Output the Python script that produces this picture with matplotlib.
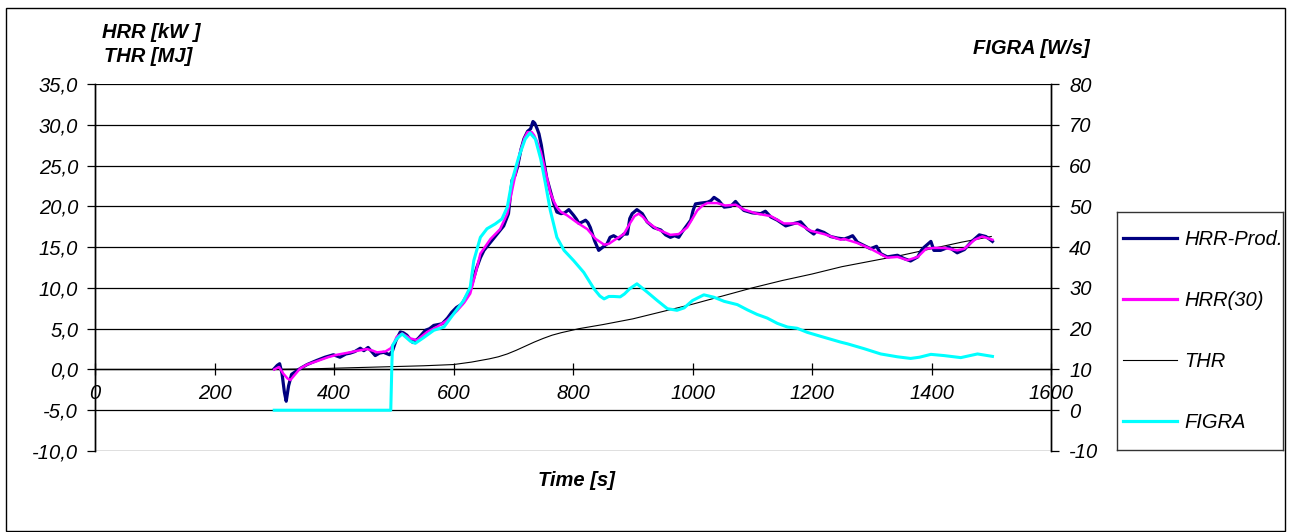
import matplotlib
matplotlib.use("Agg")
import matplotlib.pyplot as plt
from matplotlib.lines import Line2D
from matplotlib.patches import Rectangle
from matplotlib.ticker import FuncFormatter, MultipleLocator

# ---------------- data ----------------
hrr_t = [300, 305, 309, 313, 317, 320, 324, 329, 335, 343, 355, 371, 385, 399, 410, 420, 427, 435,
         444, 450, 457, 463, 469, 476, 483, 493, 498, 504, 511, 516, 522, 532, 541, 553, 560, 567,
         581, 590, 597, 605, 614, 621, 628, 633, 639, 645, 651, 662, 673, 684, 692, 698, 703, 707,
         713, 718, 724, 729, 733, 736, 740, 743, 747, 751, 756, 762, 768, 773, 780, 786, 793, 801,
         806, 810, 816, 821, 825, 829, 836, 843, 850, 857, 862, 868, 877, 885, 891, 895, 899, 907,
         916, 924, 935, 947, 955, 963, 970, 977, 983, 988, 997, 1001, 1005, 1014, 1025, 1031, 1036,
         1044, 1053, 1064, 1072, 1079, 1086, 1100, 1114, 1122, 1131, 1142, 1156, 1170, 1181, 1187,
         1192, 1203, 1209, 1220, 1231, 1243, 1254, 1262, 1268, 1276, 1287, 1298, 1308, 1315, 1326,
         1343, 1354, 1365, 1377, 1383, 1388, 1396, 1399, 1404, 1415, 1429, 1443, 1455, 1466, 1480,
         1491, 1502]
hrr_prod = [0.1, 0.5, 0.7, -0.5, -2.8, -3.9, -2.0, -0.6, -0.3, 0.1, 0.6, 1.1, 1.5, 1.8, 1.5, 1.9, 2.0, 2.2,
            2.6, 2.3, 2.7, 2.2, 1.7, 2.0, 2.1, 1.8, 2.3, 3.6, 4.6, 4.5, 4.2, 3.3, 3.8, 4.8, 5.0, 5.4,
            5.6, 6.3, 7.0, 7.6, 8.0, 8.9, 9.7, 11.0, 12.5, 13.7, 14.6, 15.6, 16.6, 17.6, 19.1, 23.2, 23.8, 24.8,
            27.0, 28.3, 29.2, 29.5, 30.4, 30.2, 29.5, 28.9, 27.5, 25.6, 23.5, 21.9, 20.3, 19.3, 19.1, 19.2, 19.6, 18.9,
            18.4, 17.9, 18.1, 18.3, 18.0, 17.4, 15.8, 14.6, 15.0, 15.4, 16.2, 16.4, 16.0, 16.6, 16.6, 18.5, 19.1, 19.6,
            19.1, 18.1, 17.4, 17.1, 16.5, 16.2, 16.4, 16.2, 16.9, 17.4, 18.3, 19.5, 20.3, 20.4, 20.5, 20.7, 21.1,
            20.7, 19.9, 20.0, 20.6, 20.0, 19.5, 19.2, 19.1, 19.4, 18.7, 18.3, 17.6, 17.9, 18.1, 17.6,
            17.2, 16.6, 17.1, 16.8, 16.3, 16.1, 16.0, 16.2, 16.4, 15.6, 15.2, 14.8, 15.1, 14.2, 13.8,
            14.0, 13.6, 13.3, 13.8, 14.6, 15.0, 15.5, 15.7, 14.6, 14.6, 15.0, 14.3, 14.7, 15.6, 16.5,
            16.3, 15.7]

hrr30_t = [300, 308, 315, 322, 327, 335, 343, 355, 371, 390, 405, 427, 440, 455, 465, 472, 486, 495, 500,
           505, 514, 528, 539, 556, 572, 589, 606, 618, 628, 637, 645, 662, 678, 690, 701, 712, 719, 724,
           731, 735, 740, 746, 751, 757, 762, 768, 773, 780, 790, 807, 824, 838, 852, 860, 868, 885, 896,
           903, 910, 917, 924, 941, 963, 977, 991, 1000, 1008, 1017, 1025, 1041, 1055, 1072, 1086, 1108,
           1131, 1153, 1176, 1198, 1220, 1248, 1254, 1276, 1298, 1326, 1343, 1360, 1377, 1391, 1404, 1421,
           1443, 1455, 1472, 1485, 1502]
hrr30 = [0.0, 0.3, -0.5, -1.1, -1.3, -0.6, 0.1, 0.6, 1.0, 1.5, 1.8, 2.1, 2.3, 2.5, 2.3, 2.1, 2.2, 2.6, 3.2,
         4.0, 4.4, 3.8, 3.6, 4.6, 5.2, 6.0, 7.2, 8.2, 9.3, 11.8, 14.2, 16.0, 17.2, 19.1, 23.0, 26.8, 28.4, 29.1,
         29.1, 28.7, 27.9, 26.7, 25.2, 23.3, 21.7, 20.6, 19.9, 19.3, 18.9, 18.0, 17.2, 16.0, 15.3, 15.4, 15.8, 16.6, 18.0,
         18.8, 19.1, 18.7, 18.1, 17.2, 16.5, 16.6, 17.4, 18.5, 19.5, 20.1, 20.4, 20.4, 20.1, 20.2, 19.6, 19.1,
         18.8, 17.9, 17.9, 17.0, 16.6, 15.9, 16.0, 15.5, 14.8, 13.7, 13.8, 13.4, 13.8, 14.8, 14.9, 14.9,
         14.6, 14.8, 15.9, 16.3, 15.9]

thr_t = [300, 350, 400, 450, 500, 550, 600, 630, 660, 675, 690, 705, 720, 735, 750, 765, 780, 810, 850,
         900, 950, 1000, 1050, 1100, 1150, 1200, 1250, 1300, 1350, 1400, 1450, 1500]
thr = [0.0, 0.05, 0.15, 0.25, 0.35, 0.45, 0.6, 0.9, 1.3, 1.55, 1.9, 2.35, 2.85, 3.35, 3.8, 4.2, 4.5, 5.0, 5.5,
       6.2, 7.1, 8.0, 9.0, 10.0, 10.9, 11.7, 12.6, 13.3, 14.0, 14.8, 15.6, 16.3]

figra_t = [300, 495, 497, 498, 505, 514, 521, 528, 536, 550, 567, 584, 600, 617, 628, 634, 645, 656, 670,
           681, 690, 698, 709, 720, 728, 737, 746, 754, 762, 773, 785, 801, 818, 835, 845, 852, 860, 868,
           879, 886, 895, 907, 924, 941, 958, 974, 986, 1000, 1019, 1036, 1053, 1075, 1092, 1108, 1125,
           1142, 1159, 1175, 1192, 1215, 1248, 1259, 1287, 1315, 1343, 1365, 1380, 1399, 1421, 1449,
           1477, 1502]
figra = [0, 0, 12.0, 15.9, 17.5, 18.7, 17.8, 16.9, 16.4, 17.8, 19.6, 20.4, 23.6, 26.9, 30.2, 36.7, 42.4, 44.5, 45.7,
         46.9, 49.8, 56.3, 62.0, 66.5, 68.0, 66.5, 61.6, 55.5, 49.0, 42.4, 39.2, 36.7, 33.8, 29.8, 28.0, 27.3, 27.9, 27.9,
         27.8, 28.5, 29.8, 31.0, 29.0, 26.9, 24.9, 24.5, 25.1, 26.9, 28.3, 27.7, 26.7, 25.9, 24.6, 23.5, 22.6,
         21.3, 20.4, 20.1, 19.1, 18.1, 16.7, 16.3, 15.1, 13.8, 13.1, 12.7, 13.0, 13.7, 13.4, 12.9,
         13.8, 13.2]

x_ticks = [0, 200, 400, 600, 800, 1000, 1200, 1400, 1600]
labels = ["HRR-Prod.", "HRR(30)", "THR", "FIGRA"]
colors = ["#000080", "#FF00FF", "#000000", "#00FFFF"]

# ---------------- figure ----------------
FONT = "Liberation Sans"
plt.rcParams["font.family"] = FONT
FS = 14.5

W, H = 1292, 532
fig = plt.figure(figsize=(W / 100, H / 100), dpi=100)

def fx(px):
    return px / W

def fy(py):
    return 1 - py / H

# outer border
fig.patches.append(Rectangle((fx(6), fy(531)), fx(1285) - fx(6), fy(8) - fy(531),
                             transform=fig.transFigure, fill=False, edgecolor="black", lw=1.0))

ax = fig.add_axes([fx(95), fy(451), fx(1051) - fx(95), fy(84) - fy(451)])
ax2 = ax.twinx()

ax.set_xlim(0, 1600)
ax.set_ylim(-10, 35)
ax2.set_ylim(-10, 80)

# gridlines
ax.yaxis.set_major_locator(MultipleLocator(5))
ax.grid(axis="y", color="black", lw=0.9)
ax.set_axisbelow(True)

ax.plot(thr_t, thr, color=colors[2], lw=0.8, zorder=3)
ax.plot(hrr_t, hrr_prod, color=colors[0], lw=2.3, zorder=4)
ax.plot(hrr30_t, hrr30, color=colors[1], lw=1.8, zorder=5)
ax2.plot(figra_t, figra, color=colors[3], lw=2.2, zorder=6)

# spines
ax.spines["top"].set_visible(False)
ax2.spines["top"].set_visible(False)
ax.spines["bottom"].set_position(("data", 0))
ax2.spines["bottom"].set_visible(False)
for a in (ax, ax2):
    a.spines["left"].set_linewidth(1.0)
    a.spines["right"].set_linewidth(1.0)
ax.spines["bottom"].set_linewidth(1.0)

ax.set_xticks(x_ticks)
ax.tick_params(axis="x", direction="inout", length=9, width=0.9, pad=6, labelsize=FS)
ax.tick_params(axis="y", direction="out", length=6, width=0.9, pad=6, labelsize=FS)
ax2.tick_params(axis="y", direction="out", length=6, width=0.9, pad=7, labelsize=FS)
ax2.yaxis.set_major_locator(MultipleLocator(10))
ax.yaxis.set_major_formatter(FuncFormatter(lambda v, p: f"{v:.1f}".replace(".", ",")))
ax2.yaxis.set_major_formatter(FuncFormatter(lambda v, p: f"{int(round(v))}"))
for lab in ax.get_xticklabels() + ax.get_yticklabels() + ax2.get_yticklabels():
    lab.set_fontstyle("italic")

# axis titles
fig.text(fx(151), fy(33), "HRR [kW ]", ha="center", va="center", fontsize=FS,
         fontweight="bold", fontstyle="italic")
fig.text(fx(148), fy(57), "THR [MJ]", ha="center", va="center", fontsize=FS,
         fontweight="bold", fontstyle="italic")
fig.text(fx(1031), fy(48), "FIGRA [W/s]", ha="center", va="center", fontsize=FS,
         fontweight="bold", fontstyle="italic")
fig.text(fx(577), fy(480), "Time [s]", ha="center", va="center", fontsize=FS,
         fontweight="bold", fontstyle="italic")

# legend in its own framed box
lax = fig.add_axes([fx(1117), fy(450), fx(1283) - fx(1117), fy(212) - fy(450)])
lax.set_xticks([])
lax.set_yticks([])
for s in lax.spines.values():
    s.set_linewidth(1.0)
    s.set_edgecolor("#333333")
lax.patch.set_alpha(0)
handles = [Line2D([], [], color=colors[0], lw=2.3),
           Line2D([], [], color=colors[1], lw=2.3),
           Line2D([], [], color=colors[2], lw=0.8),
           Line2D([], [], color=colors[3], lw=2.3)]
leg = lax.legend(handles, labels, loc="center left", bbox_to_anchor=(0, 0.5), frameon=False,
                 borderaxespad=0, borderpad=0.3, labelspacing=2.1, handlelength=2.7,
                 handletextpad=0.35, prop={"family": FONT, "style": "italic", "size": FS})

fig.savefig("out.png", dpi=100)
